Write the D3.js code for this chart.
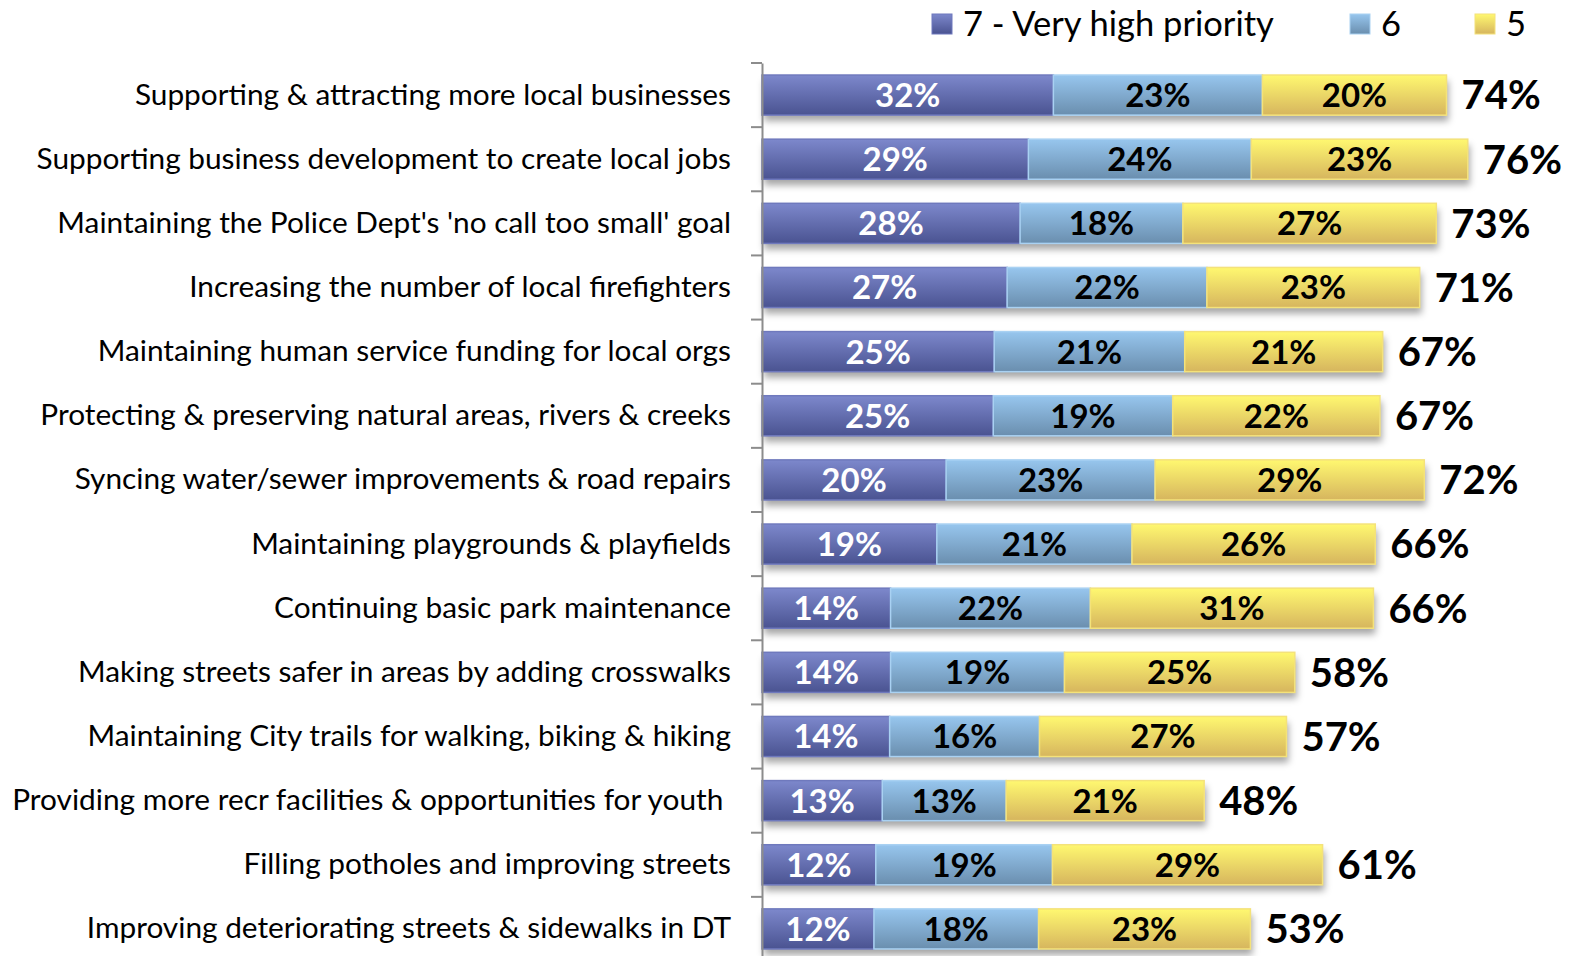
<!DOCTYPE html>
<html>
<head>
<meta charset="utf-8">
<script src="https://cdn.jsdelivr.net/npm/d3@7"></script>
<style>
  body { margin: 0; background: #fff; }
  text { font-family: Lato, "Open Sans", sans-serif; }
</style>
</head>
<body>
<div id="chart"></div>
<script>
'use strict';

// Data
const categories = [
  "Supporting & attracting more local businesses",
  "Supporting business development to create local jobs",
  "Maintaining the Police Dept's 'no call too small' goal",
  "Increasing the number of local firefighters",
  "Maintaining human service funding for local orgs",
  "Protecting & preserving natural areas, rivers & creeks",
  "Syncing water/sewer improvements & road repairs",
  "Maintaining playgrounds & playfields",
  "Continuing basic park maintenance",
  "Making streets safer in areas by adding crosswalks",
  "Maintaining City trails for walking, biking & hiking",
  "Providing more recr facilities & opportunities for youth ",
  "Filling potholes and improving streets",
  "Improving deteriorating streets & sidewalks in DT"
]
const seriesNames = ["7 - Very high priority", "6", "5"]
const veryHigh = [31.5, 28.8, 27.9, 26.5, 25.1, 25.0, 19.9, 18.9, 13.9, 13.9, 13.8, 13.0, 12.3, 12.1]
const six      = [22.6, 24.1, 17.6, 21.6, 20.6, 19.4, 22.6, 21.1, 21.6, 18.8, 16.2, 13.4, 19.1, 17.8]
const five     = [19.9, 23.4, 27.4, 23.0, 21.4, 22.4, 29.1, 26.3, 30.6, 24.9, 26.7, 21.4, 29.2, 22.9]
const labels7  = ["32%","29%","28%","27%","25%","25%","20%","19%","14%","14%","14%","13%","12%","12%"]
const labels6  = ["23%","24%","18%","22%","21%","19%","23%","21%","22%","19%","16%","13%","19%","18%"]
const labels5  = ["20%","23%","27%","23%","21%","22%","29%","26%","31%","25%","27%","21%","29%","23%"]
const totals   = ["74%","76%","73%","71%","67%","67%","72%","66%","66%","58%","57%","48%","61%","53%"]

const W = 1569, H = 956
const axisX = 762

const svg = d3.select("#chart").append("svg")
    .attr("width", W)
    .attr("height", H)

const defs = svg.append("defs")
const grads = [
  {id: "g7", top: "#7d88cc", bottom: "#4a5391"},
  {id: "g6", top: "#97c6ee", bottom: "#6a8eae"},
  {id: "g5", top: "#fff870", bottom: "#d6b55e"}
]
grads.forEach(g => {
  const lg = defs.append("linearGradient")
      .attr("id", g.id).attr("x1", 0).attr("y1", 0).attr("x2", 0).attr("y2", 1)
  lg.append("stop").attr("offset", "0%").attr("stop-color", g.top)
  lg.append("stop").attr("offset", "100%").attr("stop-color", g.bottom)
})
const shadow = defs.append("filter").attr("id", "shadow")
    .attr("x", "-5%").attr("y", "-30%").attr("width", "110%").attr("height", "180%")
shadow.append("feDropShadow")
    .attr("dx", 2).attr("dy", 6).attr("stdDeviation", 3.5)
    .attr("flood-color", "#000").attr("flood-opacity", 0.35)

const x = d3.scaleLinear().domain([0, 100]).range([axisX, axisX + 925])
const y = d3.scaleBand().domain(categories).range([63, 961])
    .paddingInner(0.375).paddingOuter(0.1875)

const rows = categories.map((c, i) => ({
  cat: c,
  segs: [
    {v: veryHigh[i], label: labels7[i], fill: "url(#g7)", stroke: "#6f79bd", color: "#fff"},
    {v: six[i], label: labels6[i], fill: "url(#g6)", stroke: "#a9d1f2", color: "#000"},
    {v: five[i], label: labels5[i], fill: "url(#g5)", stroke: "#f4e27a", color: "#000"}
  ],
  total: totals[i]
}))
rows.forEach(r => {
  let acc = 0
  r.segs.forEach(s => { s.x0 = acc; acc += s.v; s.x1 = acc })
  r.sum = acc
})

// bars
const rowG = svg.append("g").selectAll("g")
  .data(rows)
  .join("g")
    .attr("transform", d => `translate(0,${y(d.cat)})`)

rowG.append("rect")
    .attr("x", x(0))
    .attr("width", d => x(d.sum) - x(0))
    .attr("height", y.bandwidth())
    .attr("fill", "#fff")
    .attr("filter", "url(#shadow)")

rowG.selectAll("rect.seg")
  .data(d => d.segs)
  .join("rect")
    .attr("class", "seg")
    .attr("x", d => x(d.x0))
    .attr("width", d => x(d.x1) - x(d.x0))
    .attr("height", y.bandwidth())
    .attr("fill", d => d.fill)
    .attr("stroke", d => d.stroke)
    .attr("stroke-width", 1.5)

rowG.selectAll("text.val")
  .data(d => d.segs)
  .join("text")
    .attr("class", "val")
    .attr("x", d => (x(d.x0) + x(d.x1)) / 2)
    .attr("y", y.bandwidth() / 2)
    .attr("dy", "0.36em")
    .attr("text-anchor", "middle")
    .attr("fill", d => d.color)
    .style("font-size", "33px")
    .style("font-weight", "bold")
    .text(d => d.label)

rowG.append("text")
    .attr("x", d => x(d.sum) + 15)
    .attr("y", y.bandwidth() / 2)
    .attr("dy", "0.36em")
    .attr("fill", "#000")
    .style("font-size", "40px")
    .style("font-weight", "bold")
    .text(d => d.total)

// category axis
const axisG = svg.append("g")
    .attr("transform", `translate(${axisX},0)`)
    .call(d3.axisLeft(y).tickSize(0).tickPadding(31))
axisG.select(".domain").attr("stroke", "#8c8c8c").attr("stroke-width", 2)
axisG.selectAll(".tick text")
    .attr("fill", "#000")
    .style("font-size", "29.8px")
    .style("font-family", "Lato, sans-serif")
    .style("white-space", "pre")

const boundaries = categories.map(c => y(c) - y.step() * y.paddingInner() / 2)
axisG.selectAll("line.bound")
  .data(boundaries)
  .join("line")
    .attr("class", "bound")
    .attr("x1", -11).attr("x2", 0)
    .attr("y1", d => d).attr("y2", d => d)
    .attr("stroke", "#8c8c8c")
    .attr("stroke-width", 2)

// legend
const legendX = [932, 1350, 1475]
const legend = svg.append("g").selectAll("g")
  .data(seriesNames)
  .join("g")
    .attr("transform", (d, i) => `translate(${legendX[i]},14)`)
legend.append("rect")
    .attr("width", 20).attr("height", 20)
    .attr("fill", (d, i) => `url(#${grads[i].id})`)
    .attr("stroke", (d, i) => rows[0].segs[i].stroke)
    .attr("stroke-width", 1)
legend.append("text")
    .attr("x", 31)
    .attr("y", 10)
    .attr("dy", "0.36em")
    .attr("fill", "#000")
    .style("font-size", "34.5px")
    .text(d => d)
</script>
</body>
</html>
